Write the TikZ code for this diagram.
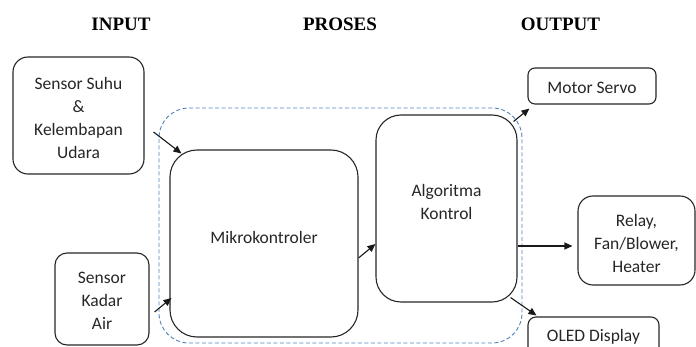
\documentclass[tikz,border=0pt]{standalone}
\usepackage{fontspec}
\setmainfont{Carlito}
\newfontfamily\headfont{Liberation Serif}
\usetikzlibrary{arrows.meta,calc}
\definecolor{procblue}{RGB}{79,129,189}
\tikzset{
  box/.style={draw=black!85, line width=1.1pt, rectangle, inner sep=0pt},
  txt/.style={font=\fontsize{17.5}{23}\selectfont, align=center, inner sep=0pt, text=black!85},
  head/.style={font=\headfont\bfseries\fontsize{19}{22}\selectfont, inner sep=0pt},
  dashbox/.style={draw=procblue, line width=0.9pt, dash pattern=on 4pt off 2.5pt,
    rectangle, rounded corners=30pt, inner sep=0pt},
  arr/.style={draw=black!90, line width=1.1pt, -{Triangle[length=8pt,width=7pt]}}
}
\begin{document}
\begin{tikzpicture}[x=1pt, y=-1pt]
  \path[use as bounding box] (0,0) rectangle (696,347);
  \clip (0,0) rectangle (696,347);

  % column headings
  \node[head] (hin)  at (121,24) {INPUT};
  \node[head] (hpro) at (340,24) {PROSES};
  \node[head] (hout) at (560.5,24) {OUTPUT};

  % processing group
  \node[dashbox, minimum width=363pt, minimum height=235pt] (proc) at (340.5,225.5) {};

  % inputs
  \node[box, rounded corners=15pt, minimum width=131pt, minimum height=117pt] (suhu) at (78.5,115.5) {};
  \node[txt] (suhut) at (78.5,117.5) {Sensor Suhu\\\&\\Kelembapan\\Udara};
  \node[box, rounded corners=12pt, minimum width=94pt, minimum height=92pt] (kadar) at (102,299) {};
  \node[txt] (kadart) at (102,301) {Sensor\\Kadar\\Air};

  % processing
  \node[box, rounded corners=27pt, minimum width=188pt, minimum height=187pt] (mikro) at (264,243.5) {};
  \node[txt] (mikrot) at (264,237) {Mikrokontroler};
  \node[box, rounded corners=25pt, minimum width=141pt, minimum height=187pt] (algo) at (446.5,208.5) {};
  \node[txt] (algot) at (446.5,201.5) {Algoritma\\Kontrol};

  % outputs
  \node[box, rounded corners=7pt, minimum width=128pt, minimum height=36pt] (servo) at (592,86) {};
  \node[txt] (servot) at (592,87.5) {Motor Servo};
  \node[box, rounded corners=15pt, minimum width=117pt, minimum height=89pt] (relay) at (636.5,240.5) {};
  \node[txt] (relayt) at (636.5,243) {Relay,\\Fan/Blower,\\Heater};
  \node[box, rounded corners=8pt, minimum width=131pt, minimum height=40pt] (oled) at (593.5,337) {};
  \node[txt] (oledt) at (593.5,336.5) {OLED Display};

  % connections
  \draw[arr] ($(suhu.east)+(9,16.5)$) -- ($(mikro.north west)+(12,4)$);
  \draw[arr] ($(kadar.east)+(5,13)$) -- ($(mikro.west)+(2,54.5)$);
  \draw[arr] ($(mikro.east)+(0,14.5)$) -- ($(algo.west)+(0,35.5)$);
  \draw[arr] ($(algo.north east)+(-4,7)$) -- ($(servo.south west)+(2,4)$);
  \draw[arr] ($(algo.east)+(0,37.5)$) -- ($(relay.west)+(-5,5.5)$);
  \draw[arr] ($(algo.south east)+(-7,-5)$) -- ($(oled.north west)+(9,-1)$);
\end{tikzpicture}
\end{document}
